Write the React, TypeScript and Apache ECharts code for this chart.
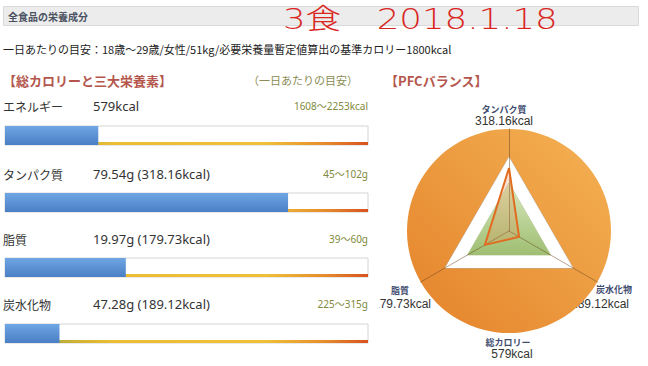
import React, { useEffect, useRef } from 'react';
import * as echarts from 'echarts';

// ---- data ----
const nutrientNames = ['エネルギー', 'タンパク質', '脂質', '炭水化物'];
const amounts = [579, 79.54, 19.97, 47.28];
const units = ['kcal', 'g', 'g', 'g'];
const kcalValues = [null, 318.16, 179.73, 189.12];
const rangeLow = [1608, 45, 39, 225];
const rangeHigh = [2253, 102, 60, 315];

const pfcNames = ['タンパク質', '脂質', '炭水化物'];
const pfcKcal = [318.16, 179.73, 189.12];
const pfcMax = [515, 660, 1660];
const pfcUpperBand = [373, 478, 1204];
const pfcLowerBand = [242, 310, 782];
const totalLabel = '総カロリー';
const totalKcal = 579;

const headerTitle = '全食品の栄養成分';
const dateTitle = '3食　2018.1.18';
const baseLine = '一日あたりの目安：18歳～29歳/女性/51kg/必要栄養量暫定値算出の基準カロリー1800kcal';
const sectionTitle = '【総カロリーと三大栄養素】';
const rangeTitle = '（一日あたりの目安）';
const pfcTitle = '【PFCバランス】';

// ---- layout ----
const FAM_JP = "'Noto Sans CJK JP', 'Noto Sans', sans-serif";
const FAM_LAT = "'Noto Sans', 'Noto Sans CJK JP', sans-serif";
const FAM_ARIAL = "'Liberation Sans', Arial, 'Noto Sans CJK JP', sans-serif";
const rowTop = [126, 193, 258, 324];
const labelY = [106, 174, 239, 304];
const BAR_LEFT = 5;
const BAR_W = 363;
const BAR_H = 19;

function txt(x: number, y: number, text: string, size: number, fill: string, fam: string, extra: any = {}) {
  const { align, weight, ...rest } = extra;
  return {
    type: 'text',
    x,
    y,
    silent: true,
    ...rest,
    style: {
      text,
      fontSize: size,
      fontFamily: fam,
      fontWeight: weight || 'normal',
      fill,
      align: align || 'left',
      verticalAlign: 'middle',
    },
  };
}

function buildLeft() {
  const grids: any[] = [];
  const xAxes: any[] = [];
  const yAxes: any[] = [];
  const series: any[] = [];
  const blue = new echarts.graphic.LinearGradient(0, 0, 0, 1, [
    { offset: 0, color: '#6fa6e4' },
    { offset: 1, color: '#4a7fc5' },
  ]);
  const under = new echarts.graphic.LinearGradient(0, 0, 1, 0, [
    { offset: 0, color: '#7fa24e' },
    { offset: 0.22, color: '#d8b434' },
    { offset: 0.3, color: '#ebbe34' },
    { offset: 0.72, color: '#efbf38' },
    { offset: 0.88, color: '#e68c2c' },
    { offset: 1, color: '#d8521e' },
  ]);
  nutrientNames.forEach((name, i) => {
    grids.push({
      left: BAR_LEFT, top: rowTop[i], width: BAR_W, height: BAR_H,
      show: true, borderColor: '#d4d4d4', borderWidth: 1, backgroundColor: '#ffffff',
    });
    grids.push({ left: BAR_LEFT, top: rowTop[i] + BAR_H - 3, width: BAR_W, height: 3 });
    for (let k = 0; k < 2; k++) {
      xAxes.push({ type: 'value', gridIndex: 2 * i + k, min: 0, max: rangeHigh[i], show: false });
      yAxes.push({ type: 'category', gridIndex: 2 * i + k, data: [name], show: false });
    }
    series.push({
      type: 'bar', xAxisIndex: 2 * i + 1, yAxisIndex: 2 * i + 1, data: [rangeHigh[i]],
      barWidth: '100%', itemStyle: { color: under }, z: 2, silent: true,
    });
    series.push({
      type: 'bar', xAxisIndex: 2 * i, yAxisIndex: 2 * i, data: [amounts[i]],
      barWidth: '100%', itemStyle: { color: blue }, z: 3, silent: true,
    });
  });

  const graphic: any[] = [
    {
      type: 'rect', silent: true,
      shape: { x: 3.5, y: 6.5, width: 635, height: 19 },
      style: { fill: '#ececec', stroke: '#dadada', lineWidth: 1 },
    },
    txt(8, 16, headerTitle, 10, '#4b5262', FAM_JP, { weight: 'bold' }),
    txt(283, 19, dateTitle, 28, '#d9261f', "'DejaVu Sans', 'Noto Sans CJK JP', sans-serif", { scaleX: 1.27, weight: 300 }),
    txt(3, 49, baseLine, 11, '#222222', FAM_JP),
    txt(3, 80, sectionTitle, 13, '#b4564c', FAM_JP, { weight: 'bold' }),
    txt(358, 80, rangeTitle, 11, '#8c8c56', FAM_JP, { align: 'right' }),
    txt(385, 80, pfcTitle, 13, '#b4564c', FAM_JP, { weight: 'bold' }),
  ];
  nutrientNames.forEach((name, i) => {
    const kc = kcalValues[i];
    const valueText = kc == null
      ? `${amounts[i]}${units[i]}`
      : `${amounts[i].toFixed(2)}${units[i]} (${kc.toFixed(2)}kcal)`;
    graphic.push(txt(3, labelY[i], name, 12, '#333333', FAM_JP));
    graphic.push(txt(93, labelY[i], valueText, 13, '#333333', FAM_LAT));
    graphic.push(txt(368, labelY[i], `${rangeLow[i]}～${rangeHigh[i]}${units[i]}`, 10, '#7f8a3c', FAM_LAT, { align: 'right' }));
  });

  return {
    animation: false,
    grid: grids,
    xAxis: xAxes,
    yAxis: yAxes,
    series,
    graphic,
  };
}

function buildRight() {
  const cx = 130;
  const cy = 136;
  const R = 102;
  const orange = new echarts.graphic.LinearGradient(0, 1, 1, 0, [
    { offset: 0, color: '#e4822a' },
    { offset: 1, color: '#f4b254' },
  ]);
  const green = new echarts.graphic.LinearGradient(0, 0, 0, 1, [
    { offset: 0, color: '#d8e8bd' },
    { offset: 1, color: '#9fbe72' },
  ]);
  const nameColor = '#3f4d70';
  const kcalColor = '#333333';
  const lab = [
    { name: pfcNames[0], kcal: pfcKcal[0], nx: 125, ny: 14, kx: 125, ky: 26 },
    { name: pfcNames[1], kcal: pfcKcal[1], nx: 21, ny: 195, kx: 23, ky: 209 },
    { name: pfcNames[2], kcal: pfcKcal[2], nx: 235, ny: 194, kx: 221, ky: 209 },
    { name: totalLabel, kcal: totalKcal, nx: 129, ny: 247, kx: 133, ky: 259 },
  ];
  const graphic: any[] = [];
  lab.forEach((l) => {
    graphic.push(txt(l.nx, l.ny, l.name, 9, nameColor, FAM_JP, { align: 'center', weight: 'bold' }));
    graphic.push(txt(l.kx, l.ky, `${l.kcal}kcal`, 12, kcalColor, FAM_ARIAL, { align: 'center' }));
  });
  return {
    animation: false,
    radar: {
      center: [cx, cy],
      radius: R,
      startAngle: 90,
      shape: 'polygon',
      splitNumber: 1,
      z: 3,
      indicator: pfcNames.map((n, i) => ({ name: n, max: pfcMax[i] })),
      axisName: { show: false },
      axisLine: { lineStyle: { color: 'rgba(110,70,30,0.5)', width: 1 } },
      splitLine: { show: false },
      splitArea: { show: false },
    },
    series: [
      {
        type: 'pie', center: [cx, cy], radius: [0, R], silent: true, z: 0,
        label: { show: false }, labelLine: { show: false },
        data: [{ name: totalLabel, value: totalKcal }],
        itemStyle: { color: orange },
      },
      {
        type: 'radar', z: 1, silent: true, symbol: 'none',
        data: [{ name: '上限', value: pfcUpperBand }],
        lineStyle: { color: 'rgba(175,175,175,0.9)', width: 1 },
        areaStyle: { color: '#ffffff', opacity: 1 },
      },
      {
        type: 'radar', z: 2, silent: true, symbol: 'none',
        data: [{ name: '下限', value: pfcLowerBand }],
        lineStyle: { color: 'rgba(150,175,110,0.6)', width: 1 },
        areaStyle: { color: green, opacity: 1 },
      },
      {
        type: 'radar', z: 4, silent: true, symbol: 'none',
        data: [{ name: 'PFC', value: pfcKcal }],
        lineStyle: { color: '#e0691c', width: 2 },
        areaStyle: { color: 'rgba(236,130,70,0.35)' },
      },
    ],
    graphic,
  };
}

export default function App() {
  const leftRef = useRef<HTMLDivElement>(null);
  const rightRef = useRef<HTMLDivElement>(null);
  useEffect(() => {
    const left = echarts.init(leftRef.current!, null, { renderer: 'svg' });
    left.setOption(buildLeft() as any);
    const right = echarts.init(rightRef.current!, null, { renderer: 'svg' });
    right.setOption(buildRight() as any);
    return () => {
      left.dispose();
      right.dispose();
    };
  }, []);
  return (
    <div style={{ position: 'fixed', left: 0, top: 0, width: 648, height: 366, background: '#ffffff' }}>
      <div ref={leftRef} style={{ position: 'absolute', left: 0, top: 0, width: 648, height: 366 }} />
      <div ref={rightRef} style={{ position: 'absolute', left: 379, top: 95, width: 269, height: 271, overflow: 'hidden' }} />
    </div>
  );
}
